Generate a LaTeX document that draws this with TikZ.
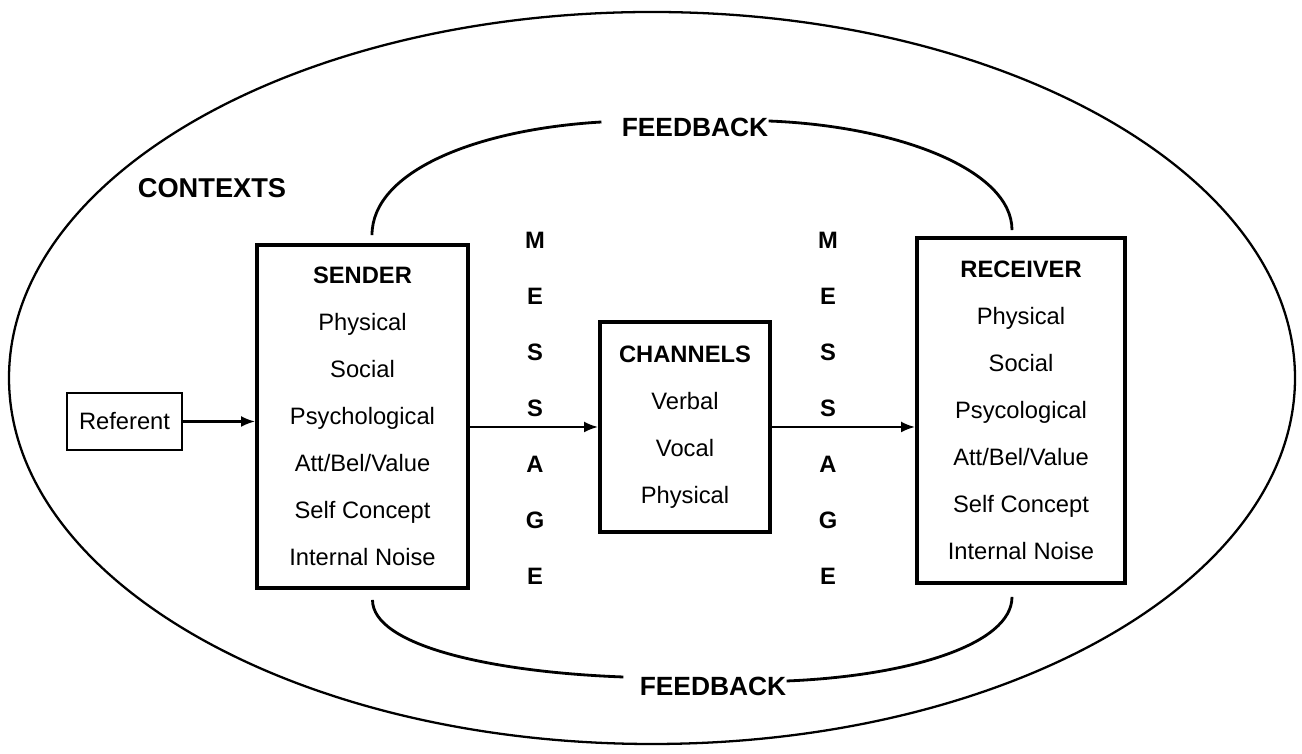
\documentclass[tikz,border=0pt]{standalone}
\usepackage{fontspec}
\setmainfont{Liberation Sans}
\usetikzlibrary{arrows.meta}
\tikzset{
    box/.style={draw, line width=2.2pt, align=center, inner sep=0pt, font=\fontsize{13.5}{26.7}\selectfont},
    arr/.style={-{Latex[length=2.8mm,width=2.2mm]}, line width=1.3pt},
    fb/.style={line width=1.6pt},
    letters/.style={align=center, font=\bfseries\fontsize{13.5}{31.9}\selectfont}
}
\begin{document}
\begin{tikzpicture}
    \useasboundingbox (0,0) rectangle (26.04,15.08);
    \draw[line width=1.3pt] (13.04,7.52) ellipse (12.86 and 7.32);
    \node[font=\bfseries\fontsize{15.5}{18}\selectfont] (ctx) at (4.24,11.32) {CONTEXTS};
    \node[box, line width=1.2pt, minimum width=2.3cm, minimum height=1.14cm] (ref) at (2.49,6.65) {Referent};
    \node[box, minimum width=4.22cm, minimum height=6.86cm] (sender) at (7.25,6.75)
        {\textbf{SENDER}\\Physical\\Social\\Psychological\\Att/Bel/Value\\Self Concept\\Internal Noise};
    \node[box, minimum width=3.4cm, minimum height=4.2cm] (channels) at (13.7,6.54)
        {\textbf{CHANNELS}\\Verbal\\Vocal\\Physical};
    \node[box, minimum width=4.16cm, minimum height=6.9cm] (receiver) at (20.42,6.87)
        {\textbf{RECEIVER}\\Physical\\Social\\Psycological\\Att/Bel/Value\\Self Concept\\Internal Noise};
    \node[letters] (msgL) at (10.7,6.91) {M\\E\\S\\S\\A\\G\\E};
    \node[letters] (msgR) at (16.56,6.91) {M\\E\\S\\S\\A\\G\\E};
    \node[font=\bfseries\fontsize{15}{18}\selectfont, inner sep=0pt] (fbtop) at (13.9,12.54) {FEEDBACK};
    \node[font=\bfseries\fontsize{15}{18}\selectfont, inner sep=0pt] (fbbot) at (14.26,1.36) {FEEDBACK};
    \draw[arr] (ref.east) -- (ref.east -| sender.west);
    \draw[arr] (channels.west -| sender.east) -- (channels.west);
    \draw[arr] (channels.east) -- (channels.east -| receiver.west);
    \draw[fb] ([xshift=0.19cm, yshift=0.16cm]sender.north) .. controls +(0,1.27) and +(-2.52,-0.15) .. ([shift={(-0.4,0.1)}]fbtop.west);
    \draw[fb] ([yshift=0.12cm]fbtop.east) .. controls +(2.6,-0.1) and +(0,1.2) .. ([xshift=-0.18cm, yshift=0.12cm]receiver.north);
    \draw[fb] ([xshift=0.2cm, yshift=-0.2cm]sender.south) .. controls +(0,-0.9) and +(-2.7,0.1) .. ([shift={(-0.32,0.18)}]fbbot.west);
    \draw[fb] ([yshift=0.1cm]fbbot.east) .. controls +(2.45,0.1) and +(0,-0.95) .. ([xshift=-0.18cm, yshift=-0.24cm]receiver.south);
\end{tikzpicture}
\end{document}
